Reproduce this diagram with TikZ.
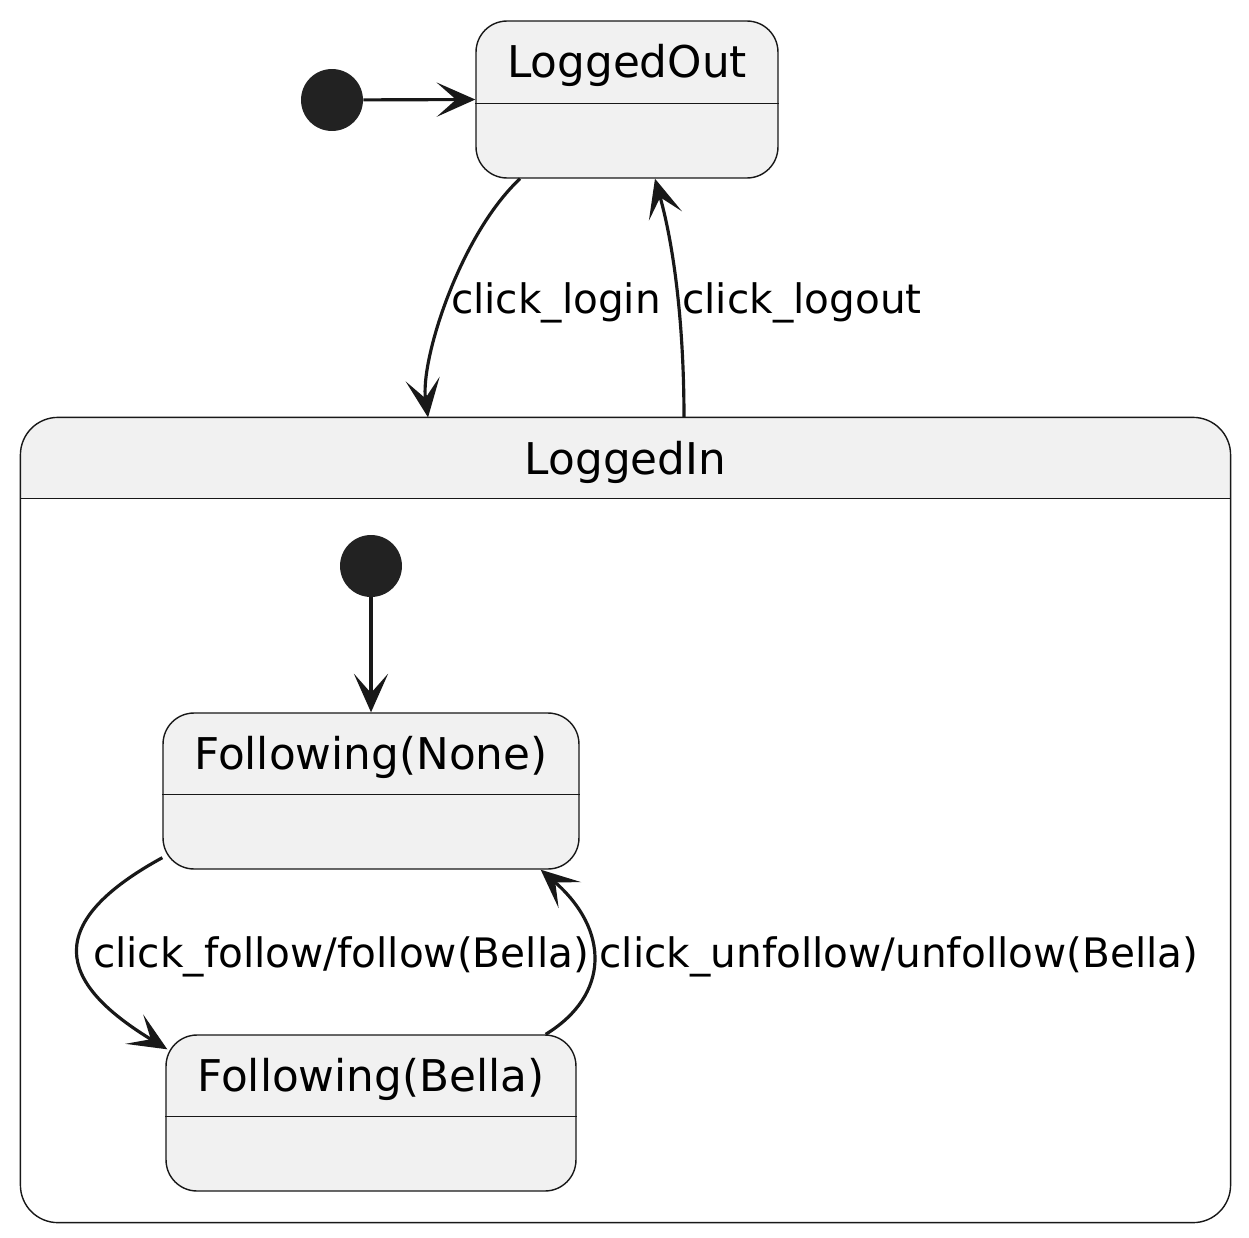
\documentclass[tikz,border=0pt]{standalone}
\usepackage{fontspec}
\setmainfont{DejaVu Sans}
\usetikzlibrary{arrows.meta,positioning}
\definecolor{statefill}{HTML}{F1F1F1}
\definecolor{dotfill}{HTML}{222222}
\definecolor{edgecol}{HTML}{181818}

\begin{document}
\begin{tikzpicture}[
  x=0.02cm, y=-0.02cm,
  >={Stealth[length=22pt,width=19.5pt,inset=11pt]},
  state/.style={draw=edgecol, line width=0.8pt, fill=statefill, rounded corners=0.62cm, inner sep=0pt},
  sep/.style={draw=edgecol, line width=0.8pt},
  startdot/.style={circle, fill=dotfill, minimum size=1.24cm, inner sep=0pt},
  trans/.style={->, line width=1.8pt, draw=edgecol},
  title/.style={anchor=base, inner sep=0pt, font=\fontsize{24.9}{29}\selectfont},
  label/.style={anchor=base, inner sep=0pt, font=\fontsize{23.1}{27}\selectfont}
]
  \useasboundingbox (0,0) rectangle (1249,1238);

  % outer states
  \node[startdot] (init) at (332,100) {};
  \node[state, minimum width=6.04cm, minimum height=3.14cm] (out) at (627,99.5) {};
  \draw[sep] ([yshift=-1.66cm]out.north west) -- ([yshift=-1.66cm]out.north east);
  \node[title] (outname) at ([yshift=-1.15cm]out.north) {LoggedOut};

  \node[state, draw=none, fill=white, minimum width=24.18cm, minimum height=16.08cm] (in) at (625.5,820) {};
  \begin{scope}
    \clip ([yshift=-1.62cm]in.north west) rectangle (in.north east);
    \fill[statefill, rounded corners=0.75cm] (in.south west) rectangle (in.north east);
  \end{scope}
  \draw[sep, rounded corners=0.75cm] (in.south west) rectangle (in.north east);
  \draw[sep] ([yshift=-1.62cm]in.north west) -- ([yshift=-1.62cm]in.north east);
  \node[title] (inname) at ([yshift=-1.15cm]in.north) {LoggedIn};

  % inner states
  \node[startdot] (subinit) at (371,566) {};
  \node[state, minimum width=8.32cm, minimum height=3.12cm] (fnone) at (371,791) {};
  \draw[sep] ([yshift=-1.64cm]fnone.north west) -- ([yshift=-1.64cm]fnone.north east);
  \node[title] (fnonename) at ([yshift=-1.15cm]fnone.north) {Following(None)};

  \node[state, minimum width=8.2cm, minimum height=3.12cm] (fbella) at (371,1113) {};
  \draw[sep] ([yshift=-1.64cm]fbella.north west) -- ([yshift=-1.64cm]fbella.north east);
  \node[title] (fbellaname) at ([yshift=-1.15cm]fbella.north) {Following(Bella)};

  % transitions
  \draw[trans] (init) -- (out.west);
  \draw[trans] ([xshift=-2.14cm]out.south) .. controls (460,235) and (420,360) .. ([xshift=-3.95cm]in.north);
  \draw[trans] ([xshift=1.17cm]in.north) .. controls (684,330) and (675,250) .. ([xshift=0.56cm]out.south);
  \node[label] (login) at (556,313) {click\_login};
  \node[label] (logout) at (802,313) {click\_logout};

  \draw[trans] (subinit) -- (fnone.north);
  \draw[trans] ([yshift=0.24cm]fnone.south west) .. controls (30,930) and (70,990) .. ([shift={(0.04cm,-0.3cm)}]fbella.north west);
  \draw[trans] ([xshift=-0.62cm]fbella.north east) .. controls (610,995) and (610,930) .. ([xshift=-0.78cm]fnone.south east);
  \node[label] (follow) at (341,967) {click\_follow/follow(Bella)};
  \node[label] (unfollow) at (899,967) {click\_unfollow/unfollow(Bella)};
\end{tikzpicture}
\end{document}
